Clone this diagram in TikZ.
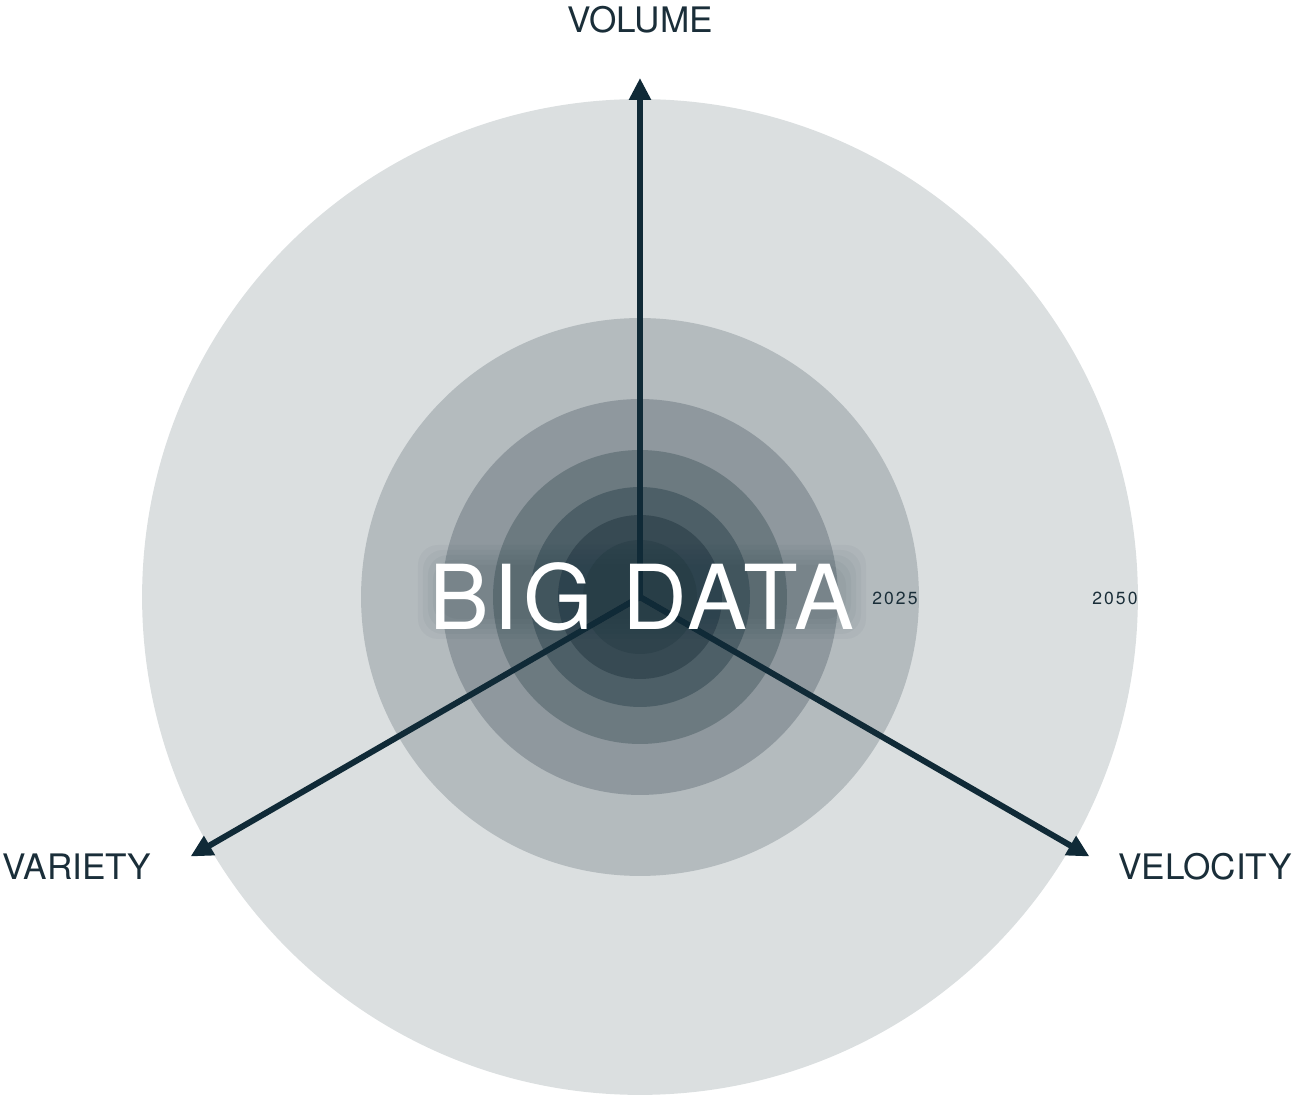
\documentclass[tikz,border=0pt]{standalone}
\usepackage{fontspec}
\setmainfont{TeX Gyre Heros}
\newfontfamily\yearfont[LetterSpace=12]{TeX Gyre Heros}
\newfontfamily\titlefont[LetterSpace=5]{TeX Gyre Heros}
\usepackage{tikz}
\usetikzlibrary{arrows.meta}
\definecolor{ring0}{HTML}{DBDFE0}
\definecolor{ring1}{HTML}{B4BBBE}
\definecolor{ring2}{HTML}{8F989E}
\definecolor{ring3}{HTML}{6C7A80}
\definecolor{ring4}{HTML}{4D5F67}
\definecolor{ring5}{HTML}{374A53}
\definecolor{ring6}{HTML}{2F434C}
\definecolor{axis}{HTML}{102A37}
\definecolor{labeltext}{HTML}{1A2E39}

\begin{document}
\begin{tikzpicture}[
x=0.02cm, y=0.02cm,
axisline/.style={axis, line width=3.4pt, -{Triangle[length=0.44cm, width=0.42cm]}},
axislabel/.style={text=labeltext, font=\fontsize{20}{20}\selectfont, inner sep=0pt},
yearlabel/.style={text=labeltext, font=\yearfont\fontsize{10}{10}\selectfont, inner sep=0pt, anchor=east},
bigtext/.style={font=\titlefont\fontsize{51}{51}\selectfont, inner sep=0pt, anchor=base},
glow/.style={fill=axis, opacity=0.035, rounded corners=0.4cm},
]
\useasboundingbox (-640,-498) rectangle (652,597);

%Rings
\fill[ring0] (0,0) circle[radius=9.96cm];
\fill[ring1] (0,0) circle[radius=5.58cm];
\fill[ring2] (0,0) circle[radius=3.96cm];
\fill[ring3] (0,0) circle[radius=2.94cm];
\fill[ring4] (0,0) circle[radius=2.20cm];
\fill[ring5] (0,0) circle[radius=1.64cm];
\fill[ring6] (0,0) circle[radius=1.14cm];

%Nodes
\coordinate (c) at (0,0);
\coordinate (volume) at (90:519);
\coordinate (variety) at (210:519);
\coordinate (velocity) at (330:519);
\node[axislabel] (vol)  at (0,577)     {VOLUME};
\node[axislabel] (var)  at (-563,-270) {VARIETY};
\node[axislabel] (vel)  at (565,-270)  {VELOCITY};
\node[yearlabel] (y25)  at (278,-1)    {2025};
\node[yearlabel] (y50)  at (498,-1)    {2050};

%Lines
\draw[axisline] (c) -- (volume);
\draw[axisline] (c) -- (variety);
\draw[axisline] (c) -- (velocity);

%Title
\foreach \d in {0,5,10,15,20}
  \fill[glow] ({-222+\d},{-42+\d}) rectangle ({226-\d},{52-\d});
\node[bigtext, text=white] (title) at (2,-33) {BIG DATA};
\end{tikzpicture}
\end{document}
